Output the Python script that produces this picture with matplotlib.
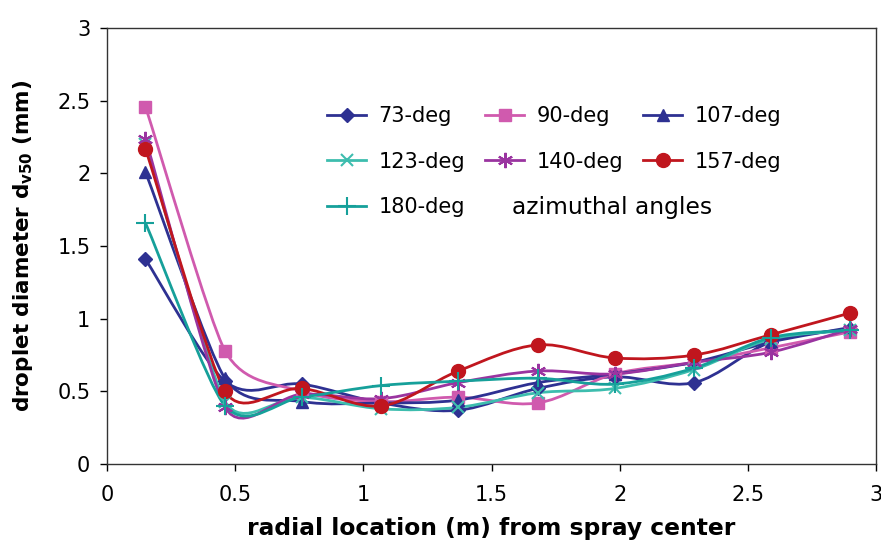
import numpy as np
import matplotlib
matplotlib.use("Agg")
import matplotlib.pyplot as plt
from matplotlib.lines import Line2D
from matplotlib.path import Path
from matplotlib.patches import PathPatch

plt.rcParams['font.family'] = ['DejaVu Sans']
plt.rcParams['mathtext.fontset'] = 'dejavusans'
plt.rcParams['mathtext.default'] = 'bf'

# ---- data ----
radial = [0.15, 0.46, 0.76, 1.07, 1.37, 1.68, 1.98, 2.29, 2.59, 2.90]
deg73 = [1.41, 0.57, 0.55, 0.42, 0.37, 0.52, 0.60, 0.56, 0.84, 0.93]
deg90 = [2.46, 0.78, 0.50, 0.43, 0.46, 0.42, 0.62, 0.70, 0.80, 0.91]
deg107 = [2.01, 0.59, 0.43, 0.42, 0.44, 0.56, 0.62, 0.70, 0.84, 0.94]
deg123 = [2.20, 0.43, 0.46, 0.38, 0.39, 0.49, 0.52, 0.65, 0.86, 0.92]
deg140 = [2.24, 0.39, 0.48, 0.45, 0.56, 0.64, 0.62, 0.70, 0.77, 0.93]
deg157 = [2.17, 0.50, 0.52, 0.40, 0.64, 0.82, 0.73, 0.75, 0.89, 1.04]
deg180 = [1.66, 0.40, 0.46, 0.54, 0.57, 0.59, 0.55, 0.66, 0.87, 0.92]
labels = ['73-deg', '90-deg', '107-deg', '123-deg', '140-deg', '157-deg', '180-deg']
x_ticks = [0, 0.5, 1, 1.5, 2, 2.5, 3]
y_ticks = [0, 0.5, 1, 1.5, 2, 2.5, 3]

series = [deg73, deg90, deg107, deg123, deg140, deg157, deg180]
colors = ['#2E3192', '#D05AAE', '#2E3192', '#3DBDAE', '#9A34A0', '#C0161E', '#16A09A']
markers = ['D', 's', '^', 'x', (6, 2, 0), 'o', '+']
msizes = [7.5, 9, 9, 9, 11, 10, 13]
mews = [1, 1, 1, 1.5, 1.5, 1, 1.5]

fig = plt.figure(figsize=(8.81, 5.43), dpi=100)
ax = fig.add_axes([0.1215, 0.1455, 0.8728, 0.8025])
ax.set_xlim(0, 3)
ax.set_ylim(0, 3)

sx, sy = 256.0, 145.0  # approximate pixel scale used for smoothing


def smooth_path(xs, ys, cap=0.45):
    """Smoothed line: Catmull-Rom style cubic Bezier with limited handles."""
    P = np.column_stack([np.asarray(xs) * sx, np.asarray(ys) * sy])
    n = len(P)
    verts = [P[0]]
    codes = [Path.MOVETO]
    for i in range(n - 1):
        p1, p2 = P[i], P[i + 1]
        p0 = P[i - 1] if i > 0 else p1
        p3 = P[i + 2] if i + 2 < n else p2
        d01 = np.linalg.norm(p1 - p0)
        d12 = np.linalg.norm(p2 - p1)
        d23 = np.linalg.norm(p3 - p2)
        t1 = (p2 - p0) / 6.0
        t2 = (p3 - p1) / 6.0
        if i > 0 and d01 < d12:
            t1 = t1 * np.sqrt(d01 / d12)
        if i + 2 < n and d23 < d12:
            t2 = t2 * np.sqrt(d23 / d12)
        for t in (t1, t2):
            L = np.linalg.norm(t)
            if L > cap * d12:
                t *= cap * d12 / L
        verts += [p1 + t1, p2 - t2, p2]
        codes += [Path.CURVE4] * 3
    verts = np.array(verts)
    verts[:, 0] /= sx
    verts[:, 1] /= sy
    return Path(verts, codes)


handles = []
for ys, c, m, ms, mew, lab in zip(series, colors, markers, msizes, mews, labels):
    ax.add_patch(PathPatch(smooth_path(radial, ys), facecolor='none', edgecolor=c,
                           lw=2.0, zorder=2))
    ax.plot(radial, ys, ls='none', marker=m, ms=ms, color=c, mec=c, mew=mew, zorder=3)
    handles.append(Line2D([], [], color=c, lw=2.0, marker=m, ms=ms, mec=c, mew=mew, label=lab))

ax.set_xticks(x_ticks)
ax.set_xticklabels([f'{v:g}' for v in x_ticks])
ax.set_yticks(y_ticks)
ax.set_yticklabels([f'{v:g}' for v in y_ticks])
ax.tick_params(direction='out', length=5, width=1, labelsize=15, colors='black')
ax.tick_params(axis='x', pad=10)
ax.tick_params(axis='y', pad=7)
for s in ax.spines.values():
    s.set_linewidth(1.0)
    s.set_color('#333333')

ax.set_xlabel('radial location (m) from spray center', fontsize=16.8, fontweight='bold', labelpad=9)
ax.set_ylabel(r'droplet diameter d$_{v50}$ (mm)', fontsize=15.5, fontweight='bold', labelpad=16)

order = [0, 3, 6, 1, 4, 2, 5]
leg = ax.legend([handles[i] for i in order], [labels[i] for i in order], ncol=3,
                frameon=False, fontsize=15, handlelength=1.87, handletextpad=0.6,
                columnspacing=0.96, labelspacing=1.24, loc='upper left',
                bbox_to_anchor=(0.262, 0.865))
ax.text(0.527, 0.588, 'azimuthal angles', transform=ax.transAxes, fontsize=16.8,
        va='center', ha='left')

fig.savefig('out.png', dpi=100)
